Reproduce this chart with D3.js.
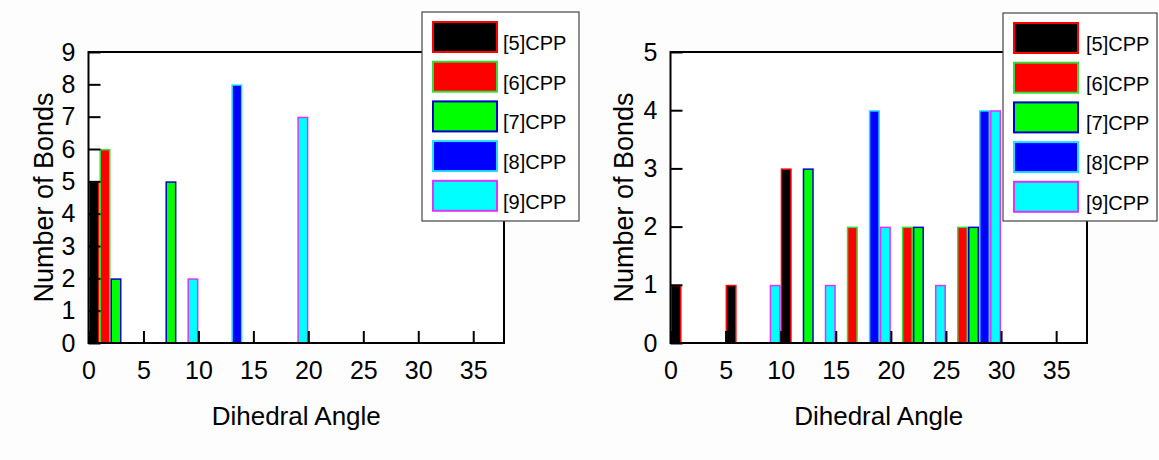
<!DOCTYPE html>
<html>
<head>
<meta charset="utf-8">
<script src="https://cdn.jsdelivr.net/npm/d3@7"></script>
<style>
  body { margin: 0; background: #fdfdfd; }
  svg { display: block; }
  text { font-family: "Liberation Sans", Arial, sans-serif; fill: #000; }
</style>
</head>
<body>
<svg id="chart" width="1159" height="460"></svg>
<script>
// Series names and the angle bins (bin start, width 1) each series occupies
const seriesNames = ['[5]CPP', '[6]CPP', '[7]CPP', '[8]CPP', '[9]CPP'];

const leftAngles = [[0], [1], [2, 7], [13], [9, 19]];
const leftCounts = [[5], [6], [2, 5], [8], [2, 7]];

const rightAngles = [[0, 5, 10], [16, 21, 26], [12, 22, 27], [18, 28], [9, 14, 19, 24, 29]];
const rightCounts = [[1, 1, 3], [2, 2, 2], [3, 2, 2], [4, 4], [1, 1, 2, 1, 4]];

const xTicks = [0, 5, 10, 15, 20, 25, 30, 35];
const leftYTicks = [0, 1, 2, 3, 4, 5, 6, 7, 8, 9];
const rightYTicks = [0, 1, 2, 3, 4, 5];

// styles
const fills = ['#000000', '#ff0000', '#00ff00', '#0000ff', '#00ffff'];
const strokes = ['#ff0000', '#33dd33', '#0000cc', '#22ddff', '#dd33ff'];

const svg = d3.select('#chart');

function drawPanel(opts) {
    const g = svg.append('g');
    const x = d3.scaleLinear().domain([0, 37.8]).range([opts.x0, opts.x1]);
    const y = d3.scaleLinear().domain([0, opts.yMax]).range([opts.y1, opts.y0]);

    // plot background
    g.append('rect')
        .attr('x', opts.x0).attr('y', opts.y0)
        .attr('width', opts.x1 - opts.x0).attr('height', opts.y1 - opts.y0)
        .attr('fill', '#fff');

    // bars
    opts.angles.forEach((list, s) => {
        const bars = list.map((a, i) => ({ a: a, c: opts.counts[s][i] }));
        g.selectAll('.bar' + s)
            .data(bars)
            .enter().append('rect')
            .attr('x', d => x(d.a) + 0.75)
            .attr('width', d => x(d.a + 1) - x(d.a) - 1.5)
            .attr('y', d => y(d.c) + 0.75)
            .attr('height', d => y(0) - y(d.c) - 0.75)
            .attr('fill', fills[s])
            .attr('stroke', strokes[s])
            .attr('stroke-width', 1.5);
    });

    // axes with inward ticks
    const xAxis = g.append('g')
        .attr('transform', `translate(0,${opts.y1})`)
        .call(d3.axisBottom(x).tickValues(xTicks).tickFormat(d3.format('d'))
            .tickSize(-12).tickPadding(18));
    const yAxis = g.append('g')
        .attr('transform', `translate(${opts.x0},0)`)
        .call(d3.axisLeft(y).tickValues(opts.yTicks).tickFormat(d3.format('d'))
            .tickSize(-12).tickPadding(13));
    [xAxis, yAxis].forEach(a => {
        a.select('.domain').remove();
        a.selectAll('line').attr('stroke', '#000').attr('stroke-width', 2);
        a.selectAll('text').style('font-size', '25px').attr('fill', '#000');
    });

    // frame
    g.append('rect')
        .attr('x', opts.x0).attr('y', opts.y0)
        .attr('width', opts.x1 - opts.x0).attr('height', opts.y1 - opts.y0)
        .attr('fill', 'none').attr('stroke', '#000').attr('stroke-width', 2);

    // axis titles
    g.append('text')
        .attr('x', (opts.x0 + opts.x1) / 2).attr('y', 425)
        .attr('text-anchor', 'middle')
        .style('font-size', '26px')
        .text('Dihedral Angle');
    g.append('text')
        .attr('transform', `translate(${opts.titleX},${(opts.y0 + opts.y1) / 2}) rotate(-90)`)
        .attr('text-anchor', 'middle')
        .style('font-size', '27px')
        .text('Number of Bonds');

    // legend
    const lg = g.append('g');
    lg.append('rect')
        .attr('x', opts.lx).attr('y', opts.ly)
        .attr('width', opts.lw).attr('height', opts.lh)
        .attr('fill', '#fff').attr('stroke', '#444').attr('stroke-width', 1.2);
    seriesNames.forEach((name, s) => {
        const top = opts.ly + 10 + s * 39.7;
        lg.append('rect')
            .attr('x', opts.lx + 11).attr('y', top)
            .attr('width', 64).attr('height', 30)
            .attr('fill', fills[s]).attr('stroke', strokes[s]).attr('stroke-width', 2);
        lg.append('text')
            .attr('x', opts.lx + 11 + 64 + opts.labelGap)
            .attr('y', top + 28)
            .style('font-size', '20px')
            .text(name);
    });
}

drawPanel({
    x0: 88.5, x1: 504, y0: 52, y1: 343, yMax: 9, yTicks: leftYTicks,
    angles: leftAngles, counts: leftCounts, titleX: 53,
    lx: 422, ly: 12, lw: 157, lh: 209, labelGap: 6
});

drawPanel({
    x0: 670.5, x1: 1087, y0: 52, y1: 343, yMax: 5, yTicks: rightYTicks,
    angles: rightAngles, counts: rightCounts, titleX: 633,
    lx: 1003, ly: 13, lw: 154, lh: 208, labelGap: 8
});
</script>
</body>
</html>
